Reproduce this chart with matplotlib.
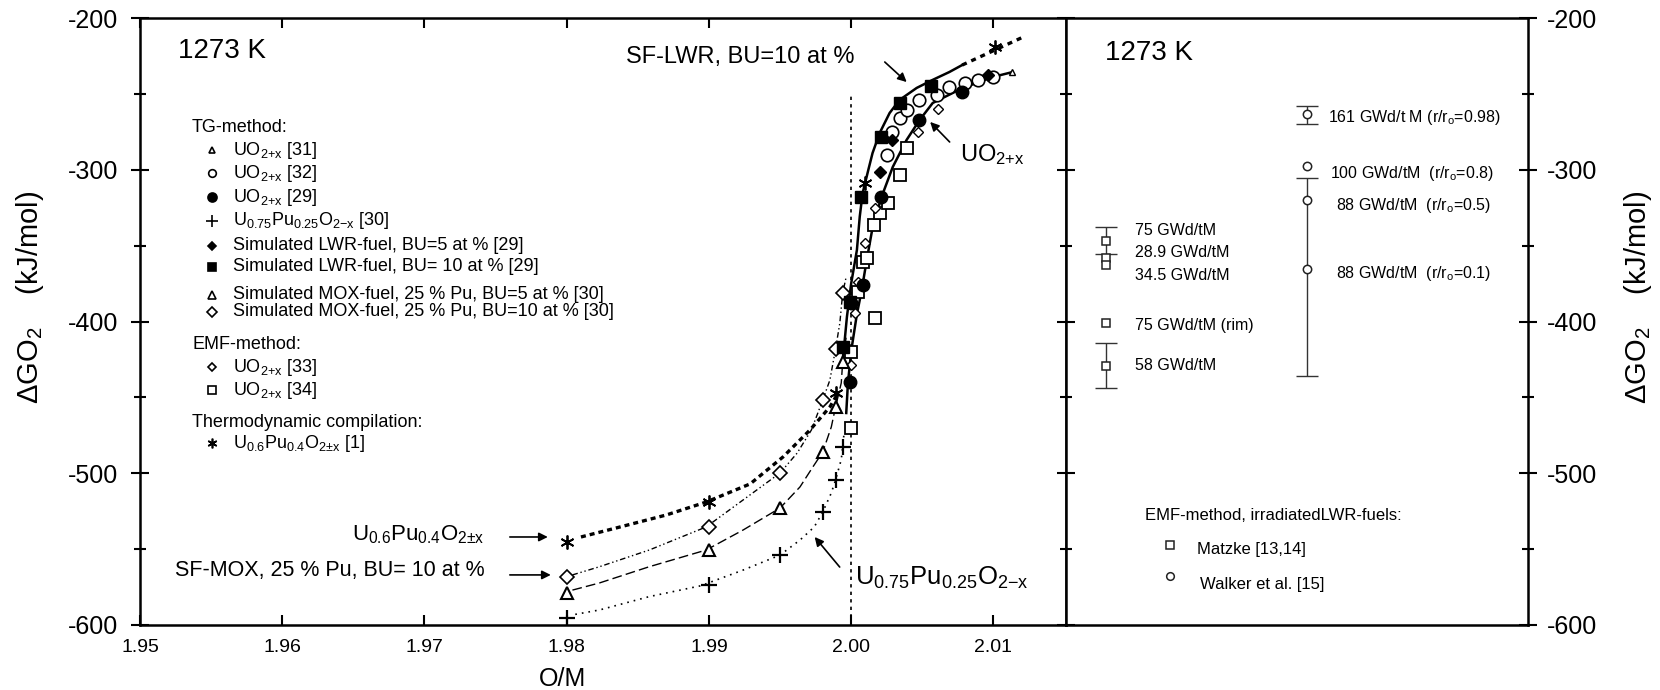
import matplotlib
matplotlib.use('Agg')
import matplotlib.pyplot as plt
from matplotlib.ticker import MultipleLocator

plt.rcParams['font.family'] = ['Liberation Sans', 'DejaVu Sans']
plt.rcParams['mathtext.fontset'] = 'custom'
plt.rcParams['mathtext.rm'] = 'Liberation Sans'
plt.rcParams['mathtext.it'] = 'Liberation Sans:italic'
plt.rcParams['mathtext.default'] = 'rm'
plt.rcParams['axes.unicode_minus'] = False

# ---------------- left panel: data points (O/M, dG kJ/mol) ----------------
# TG-method
uo2_31_x = [2.0113]
uo2_31_y = [-235.6]
uo2_32_x = [2.0025, 2.0029, 2.0034, 2.0039, 2.0048, 2.0060, 2.0069, 2.0080, 2.0089, 2.0100]
uo2_32_y = [-290.3, -275.1, -265.9, -260.6, -254.0, -250.7, -245.5, -242.8, -240.9, -238.9]
uo2_29_x = [1.9999, 2.0000, 2.0008, 2.0021, 2.0048, 2.0078]
uo2_29_y = [-439.9, -387.8, -376.0, -318.0, -267.2, -248.8]
u75_x = [1.980, 1.990, 1.995, 1.998, 1.9989, 1.9994]
u75_y = [-595.4, -573.6, -553.9, -525.5, -504.4, -482.7]
lwr5_x = [2.0020, 2.0029, 2.0096]
lwr5_y = [-301.5, -280.4, -237.6]
lwr10_x = [1.9994, 1.9999, 2.0007, 2.0021, 2.0034, 2.0056]
lwr10_y = [-416.8, -387.2, -317.8, -278.6, -256.0, -244.8]
mox5_x = [1.980, 1.990, 1.995, 1.998, 1.9989, 1.9994]
mox5_y = [-578.9, -550.6, -522.9, -486.0, -456.3, -426.7]
mox10_x = [1.980, 1.990, 1.995, 1.998, 1.9989, 1.9994]
mox10_y = [-568.4, -535.4, -499.8, -451.7, -418.1, -381.2]
# EMF-method
emf33_x = [2.0000, 2.0003, 2.0005, 2.0010, 2.0017, 2.0047, 2.0061]
emf33_y = [-428.7, -394.4, -374.0, -348.3, -325.2, -275.1, -260.0]
emf34_x = [2.0000, 2.0000, 2.0005, 2.0008, 2.0011, 2.0016, 2.0017, 2.0020, 2.0026, 2.0034, 2.0039]
emf34_y = [-470.2, -420.1, -380.6, -360.8, -358.2, -336.4, -397.7, -328.5, -321.9, -303.5, -285.7]
# Thermodynamic compilation
thermo_x = [1.980, 1.990, 1.9989, 2.0010, 2.0101]
thermo_y = [-545.0, -518.7, -447.3, -309.0, -218.9]

# ---------------- left panel: curves ----------------
sf_lwr_x = [1.9994, 1.9995, 1.9997, 2.0000, 2.0004, 2.0006, 2.0008, 2.0012, 2.0015,
            2.0020, 2.0027, 2.0034, 2.0046, 2.0057, 2.0069, 2.0078]
sf_lwr_y = [-425.4, -416.6, -396.8, -374.8, -352.9, -330.9, -315.5, -300.2, -289.0,
            -275.8, -262.6, -254.0, -246.1, -240.9, -235.6, -231.0]
sf_lwr_ext_x = [2.0078, 2.0101, 2.0121]
sf_lwr_ext_y = [-231.0, -221.1, -212.5]
uo2_curve_x = [1.99965, 1.99977, 2.00001, 2.00039, 2.00074, 2.00109, 2.00151, 2.00213,
               2.00292, 2.00389, 2.00481, 2.00573, 2.00784, 2.00995, 2.01135]
uo2_curve_y = [-460.3, -440.5, -418.8, -395.7, -379.2, -359.5, -337.7, -318.0,
               -298.2, -280.4, -267.2, -256.0, -246.1, -238.9, -235.6]
u6_curve_x = [1.9810, 1.9835, 1.9870, 1.9898, 1.9929, 1.9952, 1.9971, 1.9985, 1.9990]
u6_curve_y = [-542.0, -536.0, -527.5, -519.0, -507.0, -489.3, -471.5, -456.3, -448.4]
mox10_curve_x = [1.9804, 1.9823, 1.9858, 1.9898, 1.9924, 1.9950, 1.9962, 1.9972, 1.9980,
                 1.9985, 1.9989, 1.9992, 1.9994, 1.99965]
mox10_curve_y = [-567.0, -561.6, -550.6, -535.4, -517.6, -499.8, -486.7, -471.5, -451.7,
                 -438.6, -418.1, -401.0, -381.2, -370.5]
mox5_curve_x = [1.9804, 1.9823, 1.9858, 1.9898, 1.9924, 1.9950, 1.9964, 1.9973, 1.9980,
                1.9986, 1.9989, 1.9993, 1.9994, 1.99965]
mox5_curve_y = [-577.0, -572.3, -561.6, -550.6, -537.4, -522.9, -509.0, -495.9, -486.0,
                -469.5, -456.3, -440.5, -426.7, -410.0]
u75_curve_x = [1.9806, 1.9823, 1.9858, 1.9894, 1.9924, 1.9950, 1.9964, 1.9974, 1.9980,
               1.9986, 1.9989, 1.9993, 1.9994, 1.9995]
u75_curve_y = [-593.0, -590.1, -581.3, -574.2, -563.8, -553.9, -544.0, -535.4, -525.5,
               -513.0, -504.4, -491.0, -482.7, -473.5]
stoich_x = 2.0
stoich_y = [-600, -250.7]

# ---------------- right panel: irradiated fuels ----------------
walker_labels = ['161 GWd/t M (r/r$_o$=0.98)', '100 GWd/tM  (r/r$_o$=0.8)',
                 '88 GWd/tM  (r/r$_o$=0.5)', '88 GWd/tM  (r/r$_o$=0.1)']
walker_y = [-263.3, -297.5, -320.0, -365.4]
walker161_range = [-270.0, -258.0]
walker88_range = [-435.9, -305.4]
matzke_labels = ['75 GWd/tM', '28.9 GWd/tM', '34.5 GWd/tM', '75 GWd/tM (rim)', '58 GWd/tM']
matzke_y = [-346.7, -358.0, -363.0, -401.0, -429.3]
matzke75_range = [-355.5, -337.7]
matzke58_range = [-443.8, -414.2]

fig = plt.figure(figsize=(16.6, 6.9), dpi=100)
ax1 = fig.add_axes([140 / 1660, 65 / 690, 926 / 1660, 607 / 690])
ax2 = fig.add_axes([1066 / 1660, 65 / 690, 462 / 1660, 607 / 690])

for ax in (ax1, ax2):
    for s in ax.spines.values():
        s.set_linewidth(1.8)
    ax.set_ylim(-600, -200)
    ax.yaxis.set_major_locator(MultipleLocator(100))
    ax.yaxis.set_minor_locator(MultipleLocator(50))

# curves
ax1.plot([stoich_x, stoich_x], stoich_y, color='black', lw=1.2, ls=(0, (2, 2.5)), zorder=1)
ax1.plot(sf_lwr_x, sf_lwr_y, color='black', lw=1.8, zorder=2)
ax1.plot(sf_lwr_ext_x, sf_lwr_ext_y, color='black', lw=2.4, ls=(0, (1.5, 1.5)), zorder=2)
ax1.plot(uo2_curve_x, uo2_curve_y, color='black', lw=1.8, zorder=2)
ax1.plot(u6_curve_x, u6_curve_y, color='black', lw=2.4, ls=(0, (1.5, 1.2)), zorder=2)
ax1.plot(mox10_curve_x, mox10_curve_y, color='black', lw=1.0, ls=(0, (4, 2, 1, 2, 1, 2)), zorder=2)
ax1.plot(mox5_curve_x, mox5_curve_y, color='black', lw=1.0, ls=(0, (7, 3)), zorder=2)
ax1.plot(u75_curve_x, u75_curve_y, color='black', lw=1.2, ls=(0, (1, 3)), zorder=2)

# markers
open_kw = dict(ls='none', mfc='white', mec='black', zorder=3)
ax1.plot(emf34_x, emf34_y, marker='s', ms=8.5, mew=1.3, **open_kw)
ax1.plot(uo2_32_x, uo2_32_y, marker='o', ms=9, mew=1.2, **open_kw)
ax1.plot(emf33_x, emf33_y, marker='D', ms=5.5, mew=1.0, **open_kw)
ax1.plot(mox10_x, mox10_y, marker='D', ms=7.5, mew=1.2, **open_kw)
ax1.plot(mox5_x, mox5_y, marker='^', ms=8, mew=1.5, **open_kw)
ax1.plot(uo2_31_x, uo2_31_y, marker='^', ms=5, mew=1.0, **open_kw)
ax1.plot(uo2_29_x, uo2_29_y, ls='none', marker='o', ms=9, color='black', zorder=4)
ax1.plot(lwr10_x, lwr10_y, ls='none', marker='s', ms=9, color='black', zorder=4)
ax1.plot(lwr5_x, lwr5_y, ls='none', marker='D', ms=6, color='black', zorder=4)
ax1.plot(u75_x, u75_y, ls='none', marker='+', ms=12, mew=1.6, color='black', zorder=4)
ax1.plot(thermo_x, thermo_y, ls='none', marker=(6, 2, 0), ms=10, mew=1.3, color='black', zorder=4)

# axes / ticks left
ax1.set_xlim(1.95, 2.0151)
ax1.set_xticks([1.95, 1.96, 1.97, 1.98, 1.99, 2.00, 2.01])
ax1.set_xticklabels(['1.95', '1.96', '1.97', '1.98', '1.99', '2.00', '2.01'])
ax1.tick_params(axis='x', direction='in', length=7, width=1.5, top=True, labelsize=14, pad=10)
ax1.tick_params(axis='y', which='major', direction='inout', length=13, width=1.5,
                labelsize=18, pad=9, right=False)
ax1.tick_params(axis='y', which='minor', direction='inout', length=8, width=1.5, right=False)
ax1.set_xlabel('O/M', fontsize=18)
ax1.xaxis.set_label_coords(0.4568, -0.069)
ax1.set_ylabel('ΔGO$_2$    (kJ/mol)', fontsize=21)
ax1.yaxis.set_label_coords(-0.1015, 0.54)

ax1.text(0.041, 0.9456, '1273 K', transform=ax1.transAxes, fontsize=20, va='center')

# legend of the left panel
leg_fs = 13
hx, mx, tx = 0.0562, 0.0778, 0.1004
legend_rows = [
    ('head', 'TG-method:', 0.8188),
    (dict(marker='^', ms=4.5, mfc='white'), 'UO$_{2{+}x}$ [31]', 0.7825),
    (dict(marker='o', ms=5.5, mfc='white'), 'UO$_{2{+}x}$ [32]', 0.7446),
    (dict(marker='o', ms=6.5, mfc='black'), 'UO$_{2{+}x}$ [29]', 0.7051),
    (dict(marker='+', ms=9, mfc='black'), 'U$_{0.75}$Pu$_{0.25}$O$_{2{-}x}$ [30]', 0.6656),
    (dict(marker='D', ms=4.5, mfc='black'), 'Simulated LWR-fuel, BU=5 at % [29]', 0.6244),
    (dict(marker='s', ms=6, mfc='black'), 'Simulated LWR-fuel, BU= 10 at % [29]', 0.5898),
    (dict(marker='^', ms=6, mfc='white'), 'Simulated MOX-fuel, 25 % Pu, BU=5 at % [30]', 0.5437),
    (dict(marker='D', ms=5, mfc='white'), 'Simulated MOX-fuel, 25 % Pu, BU=10 at % [30]', 0.5157),
    ('head', 'EMF-method:', 0.4613),
    (dict(marker='D', ms=4.5, mfc='white'), 'UO$_{2{+}x}$ [33]', 0.4250),
    (dict(marker='s', ms=6, mfc='white'), 'UO$_{2{+}x}$ [34]', 0.3871),
    ('head', 'Thermodynamic compilation:', 0.3344),
    (dict(marker=(6, 2, 0), ms=7, mfc='black'), 'U$_{0.6}$Pu$_{0.4}$O$_{2{\\pm}x}$ [1]', 0.2998),
]
for style, label, yy in legend_rows:
    if style == 'head':
        ax1.text(hx, yy, label, transform=ax1.transAxes, fontsize=leg_fs, va='center')
    else:
        ax1.plot([mx], [yy], transform=ax1.transAxes, color='black', mec='black',
                 mew=1.2, ls='none', **style)
        ax1.text(tx, yy, label, transform=ax1.transAxes, fontsize=leg_fs, va='center')

# annotations
arrow_kw = dict(arrowstyle='-|>', color='black', lw=1.2, mutation_scale=13, shrinkA=0, shrinkB=0)
ax1.text(1.98415, -225.7, 'SF-LWR, BU=10 at %', fontsize=17, va='center')
ax1.annotate('', xy=(2.0039, -242.2), xytext=(2.00236, -229.0), arrowprops=arrow_kw)
ax1.text(2.00762, -290.3, 'UO$_{2{+}x}$', fontsize=17, va='center')
ax1.annotate('', xy=(2.00555, -268.5), xytext=(2.00692, -281.7), arrowprops=arrow_kw)
ax1.text(2.00025, -569.0, 'U$_{0.75}$Pu$_{0.25}$O$_{2{-}x}$', fontsize=18.5, va='center')
ax1.annotate('', xy=(1.99743, -542.0), xytext=(1.99919, -561.8), arrowprops=arrow_kw)
ax1.text(1.9742, -540.7, 'U$_{0.6}$Pu$_{0.4}$O$_{2{\\pm}x}$', fontsize=16, va='center', ha='right')
ax1.annotate('', xy=(1.97867, -542.0), xytext=(1.9760, -542.0), arrowprops=arrow_kw)
ax1.text(1.9742, -564.4, 'SF-MOX, 25 % Pu, BU= 10 at %', fontsize=15.5, va='center', ha='right')
ax1.annotate('', xy=(1.97888, -567.0), xytext=(1.9760, -567.0), arrowprops=arrow_kw)

# ---------------- right panel ----------------
col_matzke, col_walker = 0.0866, 0.5216
ax2.set_xlim(0, 1)
ax2.set_xticks([])
ax2.tick_params(axis='y', which='both', left=True, right=True, labelleft=False,
                labelright=True, direction='inout', width=1.5)
ax2.tick_params(axis='y', which='major', length=13, labelsize=18, pad=7)
ax2.tick_params(axis='y', which='minor', length=8)
ax2.yaxis.set_label_position('right')
ax2.set_ylabel('ΔGO$_2$    (kJ/mol)', fontsize=21)
ax2.yaxis.set_label_coords(1.2035, 0.54)
ax2.text(0.0844, 0.9423, '1273 K', transform=ax2.transAxes, fontsize=20, va='center')

err_kw = dict(fmt='none', ecolor='#333333', elinewidth=1.0, capsize=8, capthick=1.0)
for lo, hi, col in [(walker161_range[0], walker161_range[1], col_walker),
                    (walker88_range[0], walker88_range[1], col_walker),
                    (matzke75_range[0], matzke75_range[1], col_matzke),
                    (matzke58_range[0], matzke58_range[1], col_matzke)]:
    mid = (lo + hi) / 2
    ax2.errorbar([col], [mid], yerr=[[mid - lo], [hi - mid]], **err_kw)

ax2.plot([col_walker] * len(walker_y), walker_y, ls='none', marker='o', ms=6,
         mfc='white', mec='#222222', mew=1.1, zorder=3)
ax2.plot([col_matzke] * len(matzke_y), matzke_y, ls='none', marker='s', ms=5.5,
         mfc='white', mec='#222222', mew=1.1, zorder=3)

r_fs = 11.5
walker_text_pos = [(0.567, 0.8369), (0.571, 0.7446), (0.584, 0.6903), (0.584, 0.5799)]
for (px, py), lab in zip(walker_text_pos, walker_labels):
    ax2.text(px, py, lab, transform=ax2.transAxes, fontsize=r_fs, va='center')
matzke_text_pos = [0.6491, 0.6129, 0.5766, 0.4926, 0.4267]
for py, lab in zip(matzke_text_pos, matzke_labels):
    ax2.text(0.149, py, lab, transform=ax2.transAxes, fontsize=r_fs, va='center')

ax2.text(0.171, 0.1812, 'EMF-method, irradiatedLWR-fuels:', transform=ax2.transAxes,
         fontsize=12, va='center')
ax2.plot([0.225], [0.1318], transform=ax2.transAxes, marker='s', ms=5.5, mfc='white',
         mec='#222222', mew=1.1, ls='none')
ax2.text(0.2835, 0.1252, 'Matzke [13,14]', transform=ax2.transAxes, fontsize=12, va='center')
ax2.plot([0.225], [0.0807], transform=ax2.transAxes, marker='o', ms=5.5, mfc='white',
         mec='#222222', mew=1.1, ls='none')
ax2.text(0.290, 0.0659, 'Walker et al. [15]', transform=ax2.transAxes, fontsize=12, va='center')

fig.savefig('out.png', dpi=100, facecolor='white')
